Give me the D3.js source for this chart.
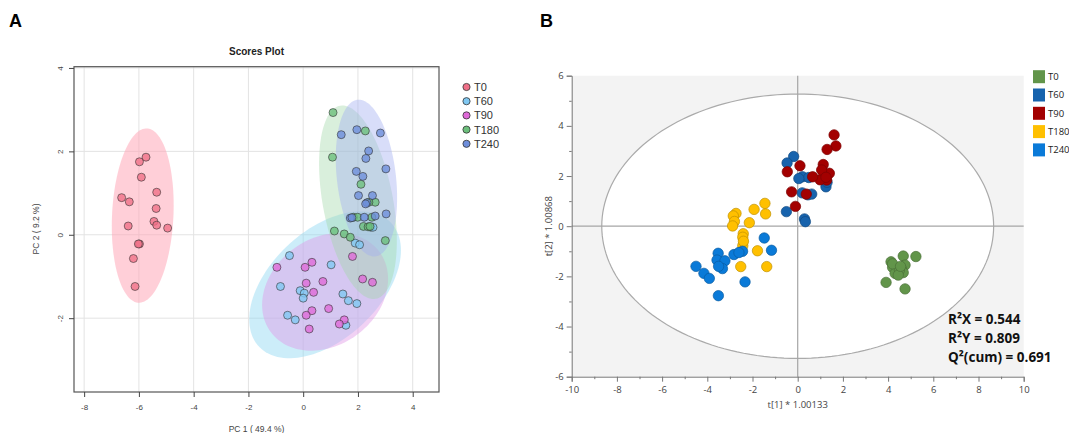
<!DOCTYPE html>
<html><head><meta charset="utf-8">
<script src="https://cdn.jsdelivr.net/npm/d3@7"></script>
<style>body{margin:0;background:#fff}svg{display:block}</style>
</head><body>
<svg id="c" width="1069" height="433"></svg>
<script>
// ---------- Panel A data (PCA scores) ----------
const groupsA = ["T0","T60","T90","T180","T240"];
const t0A = [[-5.74,1.86],[-5.98,1.75],[-5.91,1.38],[-5.35,1.02],[-6.63,0.89],[-6.35,0.79],[-5.37,0.63],[-5.45,0.32],[-5.35,0.23],[-4.95,0.16],[-6.39,0.21],[-5.98,-0.22],[-6.02,-0.22],[-6.2,-0.57],[-6.14,-1.24]];
const t60A = [[-0.5,-0.5],[1.02,-0.72],[-0.83,-1.24],[-0.11,-1.34],[0.04,-1.4],[0.0,-1.52],[1.45,-1.42],[1.65,-1.58],[1.96,-1.65],[-0.57,-1.93],[-0.29,-2.04],[1.56,-2.17],[1.9,-0.2],[2.06,-0.24],[2.47,0.18],[2.55,0.18]];
const t90A = [[-0.96,-0.78],[0.07,-0.78],[0.32,-0.66],[0.72,-1.12],[0.11,-1.16],[0.38,-1.38],[1.8,-0.52],[2.17,-1.06],[2.53,-1.14],[0.93,-1.77],[0.32,-1.82],[0.11,-1.93],[1.5,-2.04],[1.32,-2.14],[0.22,-2.26]];
const t180A = [[1.09,2.93],[1.07,1.86],[2.27,2.49],[2.11,1.21],[2.63,0.78],[2.4,0.78],[1.84,0.42],[1.99,0.42],[2.51,0.42],[2.2,0.2],[2.37,0.19],[2.44,0.2],[1.14,0.09],[1.5,0.02],[1.72,-0.06],[3.0,-0.14]];
const t240A = [[1.39,2.4],[1.96,2.52],[2.82,2.44],[2.39,2.01],[2.29,1.83],[3.02,1.58],[1.94,1.52],[2.18,1.4],[2.02,0.94],[2.53,0.94],[2.33,0.77],[2.28,0.74],[1.72,0.4],[1.78,0.41],[2.23,0.42],[2.63,0.45],[3.03,0.5]];
// confidence ellipses: [cx, cy, halfExtentX, halfExtentY, r]
const ellA = [[-5.86,0.46,1.13,2.09,0.12],[0.8,-1.2,2.77,1.76,0.47],[0.8,-1.37,2.3,1.41,0.22],[2.0,0.78,1.42,2.32,-0.4],[2.31,1.36,1.12,1.88,-0.25]];
const ticksAx = [-8,-6,-4,-2,0,2,4];
const ticksAy = [-2,0,2,4];

// ---------- Panel B data (PLS-DA scores) ----------
const groupsB = ["T0","T60","T90","T180","T240"];
const t0B = [[4.13,-1.42],[4.2,-1.64],[4.31,-1.88],[3.91,-2.24],[4.67,-1.19],[5.23,-1.21],[4.75,-1.55],[4.6,-1.72],[4.67,-1.85],[4.5,-1.75],[4.45,-1.95],[4.75,-2.5],[4.2,-1.5],[4.55,-1.6]];
const t60B = [[-0.18,2.78],[-0.47,2.52],[0.21,1.97],[0.49,1.94],[1.25,1.57],[0.2,1.33],[0.45,1.25],[0.62,1.28],[-0.5,0.58],[0.3,0.29],[0.34,0.18],[0.05,1.9],[1.3,1.75]];
const t90B = [[1.61,3.64],[1.69,3.2],[1.3,3.06],[1.13,2.46],[1.4,2.11],[1.28,1.84],[0.99,1.85],[0.66,1.97],[0.1,2.41],[-0.46,2.17],[-0.27,1.37],[0.38,1.28],[-0.1,0.79],[1.06,2.24],[1.25,1.95]];
const t180B = [[-1.45,0.91],[-1.42,0.49],[-1.93,0.67],[-2.14,0.14],[-2.73,0.51],[-2.85,0.41],[-2.8,0.19],[-2.88,0.01],[-2.41,-0.3],[-2.43,-0.44],[-2.43,-0.78],[-1.78,-0.98],[-2.52,-1.61],[-1.37,-1.61],[-2.4,-0.6]];
const t240B = [[-1.48,-0.47],[-1.16,-0.96],[-2.44,-1.0],[-2.82,-1.13],[-3.52,-1.08],[-3.57,-1.35],[-3.22,-1.38],[-3.33,-1.69],[-4.5,-1.6],[-4.15,-1.88],[-3.91,-2.08],[-2.33,-2.22],[-3.51,-2.77],[-3.5,-1.6],[-2.6,-1.05]];
const ellB = [8.67, 5.27]; // Hotelling T2 ellipse half-axes
const ticksBx = [-10,-8,-6,-4,-2,0,2,4,6,8,10];
const ticksBy = [-6,-4,-2,0,2,4,6];
const statsB = ["R\u00B2X = 0.544","R\u00B2Y = 0.809","Q\u00B2(cum) = 0.691"];

const svg = d3.select("#c");
const fmt = d => String(d);

// ================= Panel A =================
(function(){
  const colPt = ["#f07088","#80c8f2","#df6ad8","#6cbf7c","#6e8edb"];
  const colEl = ["#ff9fb2","#8fd6f2","#e09ae6","#9fd8a8","#a3aef0"];
  const opEl = [0.5,0.45,0.45,0.4,0.42];
  const data = [t0A,t60A,t90A,t180A,t240A];
  const x = d3.scaleLinear().domain([-8.37,4.96]).range([74,439]);
  const y = d3.scaleLinear().domain([-3.77,4.03]).range([392,66.7]);
  const g = svg.append("g");
  const font = "Liberation Sans, Arial, sans-serif";
  g.selectAll(".gx").data(ticksAx).join("line").attr("x1",d=>x(d)).attr("x2",d=>x(d))
    .attr("y1",66.7).attr("y2",392).attr("stroke","#e3e3e3").attr("stroke-width",1);
  g.selectAll(".gy").data(ticksAy).join("line").attr("y1",d=>y(d)).attr("y2",d=>y(d))
    .attr("x1",74).attr("x2",439).attr("stroke","#e3e3e3").attr("stroke-width",1);
  const line = d3.line().x(d=>x(d[0])).y(d=>y(d[1]));
  ellA.forEach((e,i)=>{
    const [cx,cy,ex,ey,r]=e, s=Math.sqrt(1-r*r);
    const pts = d3.range(0,361,3).map(a=>{const t=a*Math.PI/180;return [cx+ex*Math.cos(t), cy+ey*(r*Math.cos(t)+s*Math.sin(t))];});
    g.append("path").attr("d",line(pts)+"Z").attr("fill",colEl[i]).attr("fill-opacity",opEl[i]).attr("stroke","none");
  });
  data.forEach((arr,i)=>{
    g.selectAll(null).data(arr).join("circle").attr("cx",d=>x(d[0])).attr("cy",d=>y(d[1])).attr("r",4)
      .attr("fill",colPt[i]).attr("fill-opacity",0.8).attr("stroke","#333").attr("stroke-opacity",0.75).attr("stroke-width",0.8);
  });
  g.append("rect").attr("x",74).attr("y",66.7).attr("width",365).attr("height",325.3)
    .attr("fill","none").attr("stroke","#555").attr("stroke-width",1.2);
  const ax = g.append("g").attr("transform","translate(0,392)").call(d3.axisBottom(x).tickValues(ticksAx).tickSize(5).tickFormat(fmt));
  ax.select(".domain").remove();
  ax.selectAll("line").attr("stroke","#444");
  ax.selectAll("text").attr("font-family",font).attr("font-size",8).attr("fill","#444").attr("dy","1.2em");
  const ay = g.append("g").attr("transform","translate(74,0)").call(d3.axisLeft(y).tickValues(ticksAy).tickSize(5).tickFormat(fmt));
  ay.select(".domain").remove();
  ay.selectAll("line").attr("stroke","#444");
  ay.selectAll(".tick text").attr("font-family",font).attr("font-size",8).attr("fill","#444").attr("text-anchor","middle")
    .attr("transform","rotate(-90) translate(0,-14)").attr("x",0).attr("y",0).attr("dy","0.35em");
  g.append("text").attr("x",256.5).attr("y",55).attr("text-anchor","middle").attr("font-family",font)
    .attr("font-weight","bold").attr("font-size",10).attr("fill","#222").text("Scores Plot");
  g.append("text").attr("x",256.5).attr("y",432).attr("text-anchor","middle").attr("font-family",font)
    .attr("font-size",8.5).attr("fill","#444").text("PC 1 ( 49.4 %)");
  g.append("text").attr("transform","translate(39,229) rotate(-90)").attr("text-anchor","middle").attr("font-family",font)
    .attr("font-size",8.5).attr("fill","#444").text("PC 2 ( 9.2 %)");
  const lg = g.append("g");
  groupsA.forEach((k,i)=>{
    const yy = 87 + i*14.2;
    lg.append("circle").attr("cx",466.5).attr("cy",yy).attr("r",3.6).attr("fill",colPt[i]).attr("stroke","#333").attr("stroke-width",0.8);
    lg.append("text").attr("x",474).attr("y",yy).attr("dy","0.36em").attr("font-family",font)
      .attr("font-size",11).attr("fill","#333").text(k);
  });
  svg.append("text").attr("x",9).attr("y",27).attr("font-family",font).attr("font-weight","bold").attr("font-size",18).text("A");
})();

// ================= Panel B =================
(function(){
  const col = ["#62954a","#1763ad","#a30000","#ffc000","#0a7ad8"];
  const data = [t0B,t60B,t90B,t180B,t240B];
  const x = d3.scaleLinear().domain([-10,10]).range([571.7,1023.7]);
  const y = d3.scaleLinear().domain([-6,6]).range([376.7,75.7]);
  const g = svg.append("g");
  const font = "Open Sans, Noto Sans, sans-serif";
  g.append("rect").attr("x",x(-10)).attr("y",y(6)).attr("width",x(10)-x(-10)).attr("height",y(-6)-y(6)).attr("fill","#f3f3f3");
  const pts = d3.range(0,361,2).map(a=>{const t=a*Math.PI/180;return [ellB[0]*Math.cos(t), ellB[1]*Math.sin(t)];});
  g.append("path").attr("d",d3.line().x(d=>x(d[0])).y(d=>y(d[1]))(pts)+"Z").attr("fill","#fff").attr("stroke","#aaa").attr("stroke-width",1.2);
  g.append("line").attr("x1",x(0)).attr("x2",x(0)).attr("y1",y(6)).attr("y2",y(-6)).attr("stroke","#a6a6a6").attr("stroke-width",1.2);
  g.append("line").attr("x1",x(-10)).attr("x2",x(10)).attr("y1",y(0)).attr("y2",y(0)).attr("stroke","#a6a6a6").attr("stroke-width",1.2);
  data.forEach((arr,i)=>{
    g.selectAll(null).data(arr).join("circle").attr("cx",d=>x(d[0])).attr("cy",d=>y(d[1])).attr("r",5.2)
      .attr("fill",col[i]).attr("stroke",d3.color(col[i]).darker(0.8)).attr("stroke-width",0.7);
  });
  const ax = g.append("g").attr("transform",`translate(0,${y(-6)})`).call(d3.axisBottom(x).tickValues(ticksBx).tickSize(5).tickFormat(fmt));
  ax.select(".domain").attr("stroke","#777");
  ax.selectAll("line").attr("stroke","#777");
  ax.selectAll("text").attr("font-family",font).attr("font-size",9.5).attr("fill","#444").attr("dy","0.9em");
  const axm = g.append("g").attr("transform",`translate(0,${y(-6)})`).call(d3.axisBottom(x).tickValues(d3.range(-9,10,2)).tickSize(2.5).tickFormat(""));
  axm.select(".domain").remove(); axm.selectAll("line").attr("stroke","#777");
  const ay = g.append("g").attr("transform",`translate(${x(-10)},0)`).call(d3.axisLeft(y).tickValues(ticksBy).tickSize(5).tickFormat(fmt));
  ay.select(".domain").attr("stroke","#777");
  ay.selectAll("line").attr("stroke","#777");
  ay.selectAll("text").attr("font-family",font).attr("font-size",9.5).attr("fill","#444");
  const aym = g.append("g").attr("transform",`translate(${x(-10)},0)`).call(d3.axisLeft(y).tickValues(d3.range(-5,6,2)).tickSize(2.5).tickFormat(""));
  aym.select(".domain").remove(); aym.selectAll("line").attr("stroke","#777");
  g.append("text").attr("x",x(0)).attr("y",408).attr("text-anchor","middle").attr("font-family",font).attr("font-size",9.5).attr("fill","#444").text("t[1] * 1.00133");
  g.append("text").attr("transform",`translate(552,${y(0)}) rotate(-90)`).attr("text-anchor","middle").attr("font-family",font).attr("font-size",9.5).attr("fill","#444").text("t[2] * 1.00868");
  statsB.forEach((s,i)=>{
    g.append("text").attr("x",948).attr("y",324+i*19).attr("font-family",font).attr("font-weight","bold").attr("font-size",13.5).attr("fill","#111").text(s);
  });
  groupsB.forEach((k,i)=>{
    const yy = 76.7 + i*18.3;
    g.append("rect").attr("x",1033).attr("y",yy-6.5).attr("width",12).attr("height",13).attr("fill",col[i]);
    g.append("text").attr("x",1048).attr("y",yy).attr("dy","0.35em").attr("font-family",font).attr("font-size",9.5).attr("fill","#222").text(k);
  });
  svg.append("text").attr("x",540).attr("y",27).attr("font-family","Liberation Sans, Arial, sans-serif").attr("font-weight","bold").attr("font-size",18).text("B");
})();
</script>
</body></html>
